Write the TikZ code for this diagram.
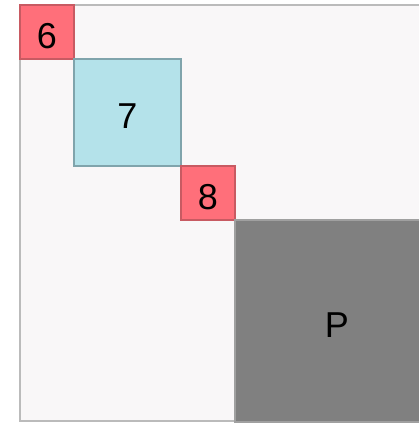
\documentclass[tikz,border=0pt]{standalone}
\usepackage{fontspec}
\setmainfont{Liberation Sans}
\usetikzlibrary{positioning}
\definecolor{redfill}{RGB}{255,111,122}
\definecolor{reddraw}{RGB}{200,90,98}
\definecolor{cyanfill}{RGB}{180,226,234}
\definecolor{cyandraw}{RGB}{128,164,172}
\definecolor{grayfill}{RGB}{128,128,128}
\definecolor{graydraw}{RGB}{160,160,160}
\definecolor{bgfill}{RGB}{249,247,248}
\definecolor{bgdraw}{RGB}{187,187,187}
\tikzset{
    blk/.style={rectangle, line width=2pt, inner sep=0pt, outer sep=0pt, anchor=north west,
        font=\fontsize{36}{42}\selectfont, text height=32pt, text depth=0pt},
    redblk/.style={blk, fill=redfill, draw=reddraw, minimum size=54pt},
    cyanblk/.style={blk, fill=cyanfill, draw=cyandraw, minimum size=107pt},
    grayblk/.style={blk, fill=grayfill, draw=graydraw, minimum width=204pt, minimum height=202pt}
}

\begin{document}
\begin{tikzpicture}[x=1pt, y=-1pt]
    \useasboundingbox (0, 0) rectangle (419, 423);
    \clip (0, 0) rectangle (419, 423);

    \draw[bgdraw, fill=bgfill, line width=2pt] (20, 5) rectangle (445, 421);

    \node[redblk] (sq6) at (20, 5) {6};
    \node[cyanblk] (sq7) at (sq6.south east) {7};
    \node[redblk] (sq8) at (sq7.south east) {8};
    \node[grayblk] (blockP) at (sq8.south east) {P};
\end{tikzpicture}
\end{document}
